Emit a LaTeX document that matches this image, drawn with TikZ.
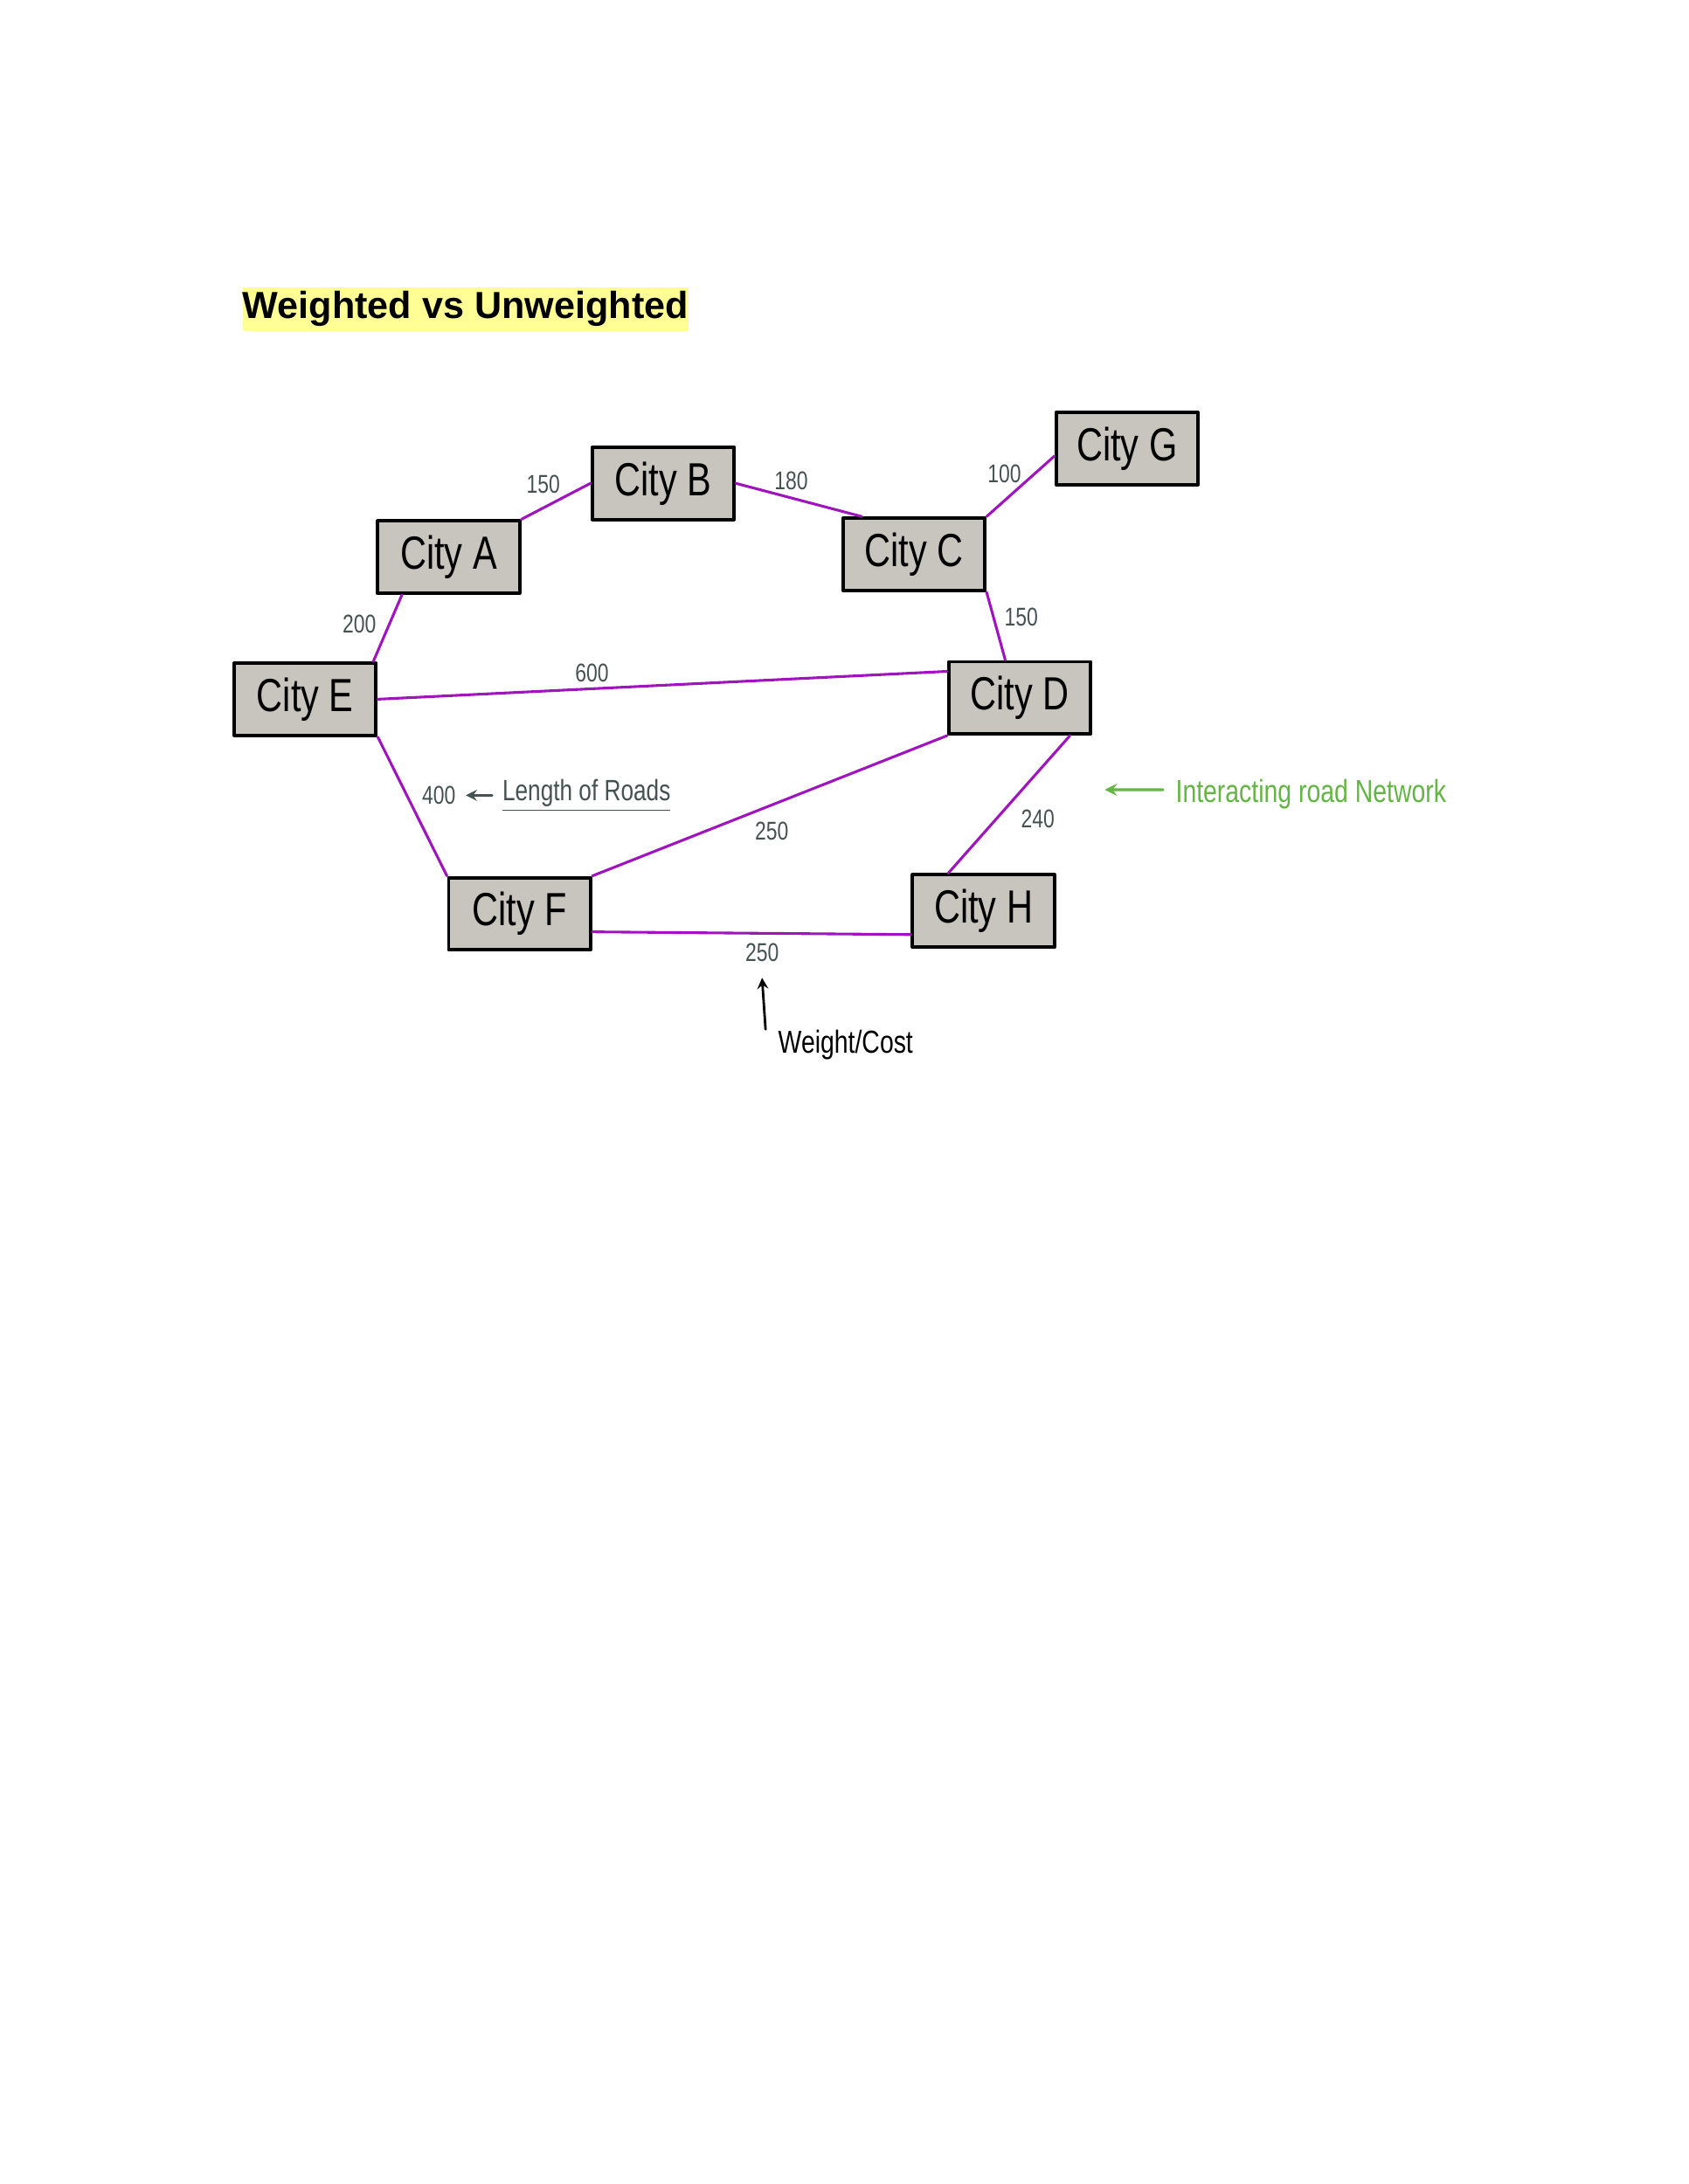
\documentclass[tikz,border=0pt]{standalone}
\usepackage{fontspec}
\setmainfont{Liberation Sans}
\newfontfamily\hand[FakeStretch=0.78]{Liberation Sans}
\definecolor{roadpurple}{RGB}{160,20,190}
\definecolor{cityfill}{RGB}{200,197,190}
\definecolor{wtgray}{RGB}{70,82,82}
\definecolor{notegreen}{RGB}{100,180,70}
\definecolor{hilite}{RGB}{255,255,150}

\begin{document}
\begin{tikzpicture}[x=0.02cm,y=-0.02cm,line join=round,line cap=round,>=stealth,
	city/.style={draw,line width=1.4pt,fill=cityfill,minimum width=58pt,minimum height=29.5pt,inner sep=0pt,font=\hand\fontsize{19}{21}\selectfont},
	road/.style={draw=roadpurple,line width=1.1pt},
	wt/.style={text=wtgray,inner sep=0pt,font=\hand\fontsize{10.5}{12}\selectfont},
	note/.style={inner sep=0pt,font=\hand\fontsize{13}{15}\selectfont}]
	\useasboundingbox (0,0) rectangle (1212,1568);
	
	\node[fill=hilite,inner sep=0pt,text height=12.6pt,text depth=5.4pt,anchor=west,font=\bfseries\fontsize{15.4}{18}\selectfont] (title) at (174,222) {Weighted vs Unweighted};
	
	\node[city] (A) at (322,400) {City A};
	\node[city] (B) at (476,347) {City B};
	\node[city] (C) at (656,398) {City C};
	\node[city] (G) at (809,322) {City G};
	\node[city] (E) at (219,502) {City E};
	\node[city] (D) at (732,501) {City D};
	\node[city] (F) at (373,656) {City F};
	\node[city] (H) at (706,654) {City H};
	
	\draw[road] (A.north east) -- (B.west);
	\draw[road] (B.east) -- (C.144);
	\draw[road] (C.north east) -- (G.186);
	\draw[road] (C.south east) -- (D.111);
	\draw[road] (A.219) -- (E.29);
	\draw[road] (E.east) -- (D.160);
	\draw[road] (E.south east) -- (F.north west);
	\draw[road] (D.south west) -- (F.north east);
	\draw[road] (D.323) -- (H.133);
	\draw[road] (F.-14) -- (H.198);
	
	\node[wt] (wAB) at (390,348) {150};
	\node[wt] (wBC) at (568,345) {180};
	\node[wt] (wCG) at (721,340) {100};
	\node[wt] (wCD) at (733,443) {150};
	\node[wt] (wAE) at (258,448) {200};
	\node[wt] (wED) at (425,483) {600};
	\node[wt] (wEF) at (315,571) {400};
	\node[wt] (wDF) at (554,597) {250};
	\node[wt] (wDH) at (745,588) {240};
	\node[wt] (wFH) at (547,684) {250};
	
	\node[wt,font=\hand\fontsize{12}{14}\selectfont] (len) at (421,571) {\underline{Length of Roads}};
	\draw[->,wtgray,line width=1pt,shorten <=4pt,shorten >=4pt] (len.west) -- (wEF.east);
	
	\node[note,text=notegreen] (net) at (941,570) {Interacting road Network};
	\coordinate (nettip) at (793,567);
	\draw[->,notegreen,line width=1.2pt,shorten <=5pt] ([yshift=1.7pt]net.west) -- (nettip);
	
	\node[note] (wc) at (607,750) {Weight/Cost};
	\coordinate (wctip) at (547,702);
	\draw[->,line width=1pt] ([xshift=-5pt]wc.north west) -- (wctip);
\end{tikzpicture}
\end{document}
